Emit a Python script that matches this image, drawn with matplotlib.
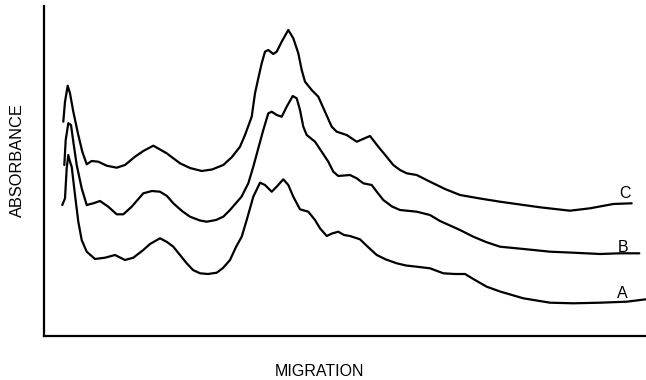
import matplotlib
matplotlib.use("Agg")
import matplotlib.pyplot as plt

# Densitometer traces (migration position, absorbance in arbitrary units)
migration_A = [62.3, 65, 66.7, 68.3, 70, 71.7, 75, 78.3, 81.7, 86.7, 95, 105, 115, 125, 133.3,
               143.3, 150, 160, 167, 173.3, 180, 186.7, 193, 200, 208, 216.7, 223, 230, 236,
               241.7, 246.7, 253.3, 260, 265, 271.7, 276.7, 283.3, 288.3, 293.3, 300, 308.3,
               315, 320, 326.7, 332, 338.3, 344, 350, 360, 368, 376.7, 386, 396.7, 406,
               416.7, 430, 443.3, 455, 465, 475, 486.7, 500, 523.3, 550, 573.3, 600, 626.7, 646]
absorb_A = [132, 138.7, 168.7, 182, 175.3, 170.3, 142, 115.3, 97, 85.3, 78, 79.3, 82, 77, 79.3,
            87, 93, 98.7, 95, 90.3, 82, 73.7, 67, 63.7, 63, 64.3, 69, 77, 90,
            100.3, 117, 140.3, 154.3, 152, 145.3, 150.3, 157.7, 152, 140.3, 127.7, 125.3,
            117, 108.7, 101, 103.5, 105.3, 102, 101, 97.7, 90, 82, 77.5, 73.7, 71.5,
            70.3, 68.7, 63.7, 63, 63, 57, 50.3, 45.5, 38.7, 34.3, 33.7, 34.3, 35.3, 37.7]

migration_B = [64.3, 65.7, 68.3, 71, 73.3, 76.7, 81.7, 86.7, 93.3, 100, 108.3, 116.7, 123.3,
               131.7, 143.3, 152, 160, 167, 173.3, 182, 190, 200, 206.7, 216, 223.3, 230,
               241.5, 248.3, 253.3, 258.3, 263.3, 268.3, 271.7, 276.7, 281.7, 286.7, 292.7,
               296.7, 300, 303.3, 306.7, 315, 321.7, 328.3, 333.3, 338.3, 350, 356.7, 363.3,
               371.7, 377, 383.3, 392, 400, 416.7, 430, 440, 460, 473.3, 486, 500, 526.7,
               550, 573.3, 600, 620, 639.3]
absorb_B = [172, 197, 213.7, 212, 195.3, 172, 148.7, 132, 133.7, 136, 130.3, 122.7, 122.7,
            130.3, 143.7, 146, 145.3, 141, 133.7, 126, 120.3, 116.5, 115.3, 117, 120.3, 127,
            140.3, 153.7, 170.3, 188.7, 207, 223.7, 225.3, 222, 220.3, 230.3, 241,
            238.7, 227, 210.3, 202, 195.3, 185.3, 175.3, 165.3, 161, 162, 158.7, 153.7,
            152, 145, 137, 130.5, 127, 125.3, 122, 116, 107, 100.3, 95, 90.3, 87.7,
            85.3, 84.3, 83, 83.7, 83.7]

migration_C = [63.3, 65, 67.7, 70, 73.3, 78.3, 82.3, 86.7, 91.7, 98.3, 106.7, 116.7, 125, 135,
               143.3, 153.3, 166.7, 180, 190, 201.7, 212, 223.3, 232, 240, 245, 251.7, 255,
               258.3, 261.7, 265, 268.3, 273.3, 276.7, 281.7, 288.3, 293.3, 298.3, 301.7, 305,
               311.7, 318.3, 325, 331.7, 336.7, 346.7, 356.7, 363, 370, 378.3, 386, 393.3,
               400, 406.7, 416.7, 430, 445, 460, 480, 500, 520, 540, 555, 570, 590, 613.3, 631.7]
absorb_C = [215.3, 235.3, 251.3, 243.7, 225.3, 202, 185.3, 172.7, 176, 175.3, 171.3, 169.3, 172,
            180.3, 186, 191.3, 183.7, 173.7, 169, 166, 167.5, 172, 180, 190.3, 202, 220.3,
            243.7, 258.7, 273.7, 285.3, 287, 283, 285.3, 295.3, 307, 298.7, 283.7, 267,
            255.3, 247, 240.3, 225.3, 210.3, 205.3, 202, 195.3, 198, 201, 190.3, 181, 172,
            167, 163.7, 162, 155.3, 148, 142, 138.5, 135.3, 132.5, 129.7, 128, 126.3, 128.7,
            133, 133.7]

trace_labels = ["A", "B", "C"]
label_pos = [(622.5, 44), (623.5, 90), (625, 144)]

plt.rcParams['font.family'] = ['Liberation Sans', 'DejaVu Sans']

fig = plt.figure(figsize=(6.46, 3.80), dpi=100)
ax = fig.add_axes([43.5 / 646, 1 - 336 / 380, 1 - 43.5 / 646, 330 / 380])

for xs, ys in [(migration_A, absorb_A), (migration_B, absorb_B), (migration_C, absorb_C)]:
    ax.plot(xs, ys, color='black', lw=1.6, solid_joinstyle='round', solid_capstyle='round')

for lab, (px, py) in zip(trace_labels, label_pos):
    ax.text(px, py, lab, fontsize=11.5, ha='center', va='center')

ax.set_xlim(43.5, 646)
ax.set_ylim(1, 331)
ax.set_xticks([])
ax.set_yticks([])
for side in ['top', 'right']:
    ax.spines[side].set_visible(False)
for side in ['left', 'bottom']:
    ax.spines[side].set_linewidth(1.6)

fig.text(17.5 / 646, 1 - 160 / 380, 'ABSORBANCE', rotation=90, fontsize=11.8,
         ha='center', va='center')
fig.text(319 / 646, 1 - 372 / 380, 'MIGRATION', fontsize=11.5, ha='center', va='center')

fig.savefig('out.png', dpi=100)
